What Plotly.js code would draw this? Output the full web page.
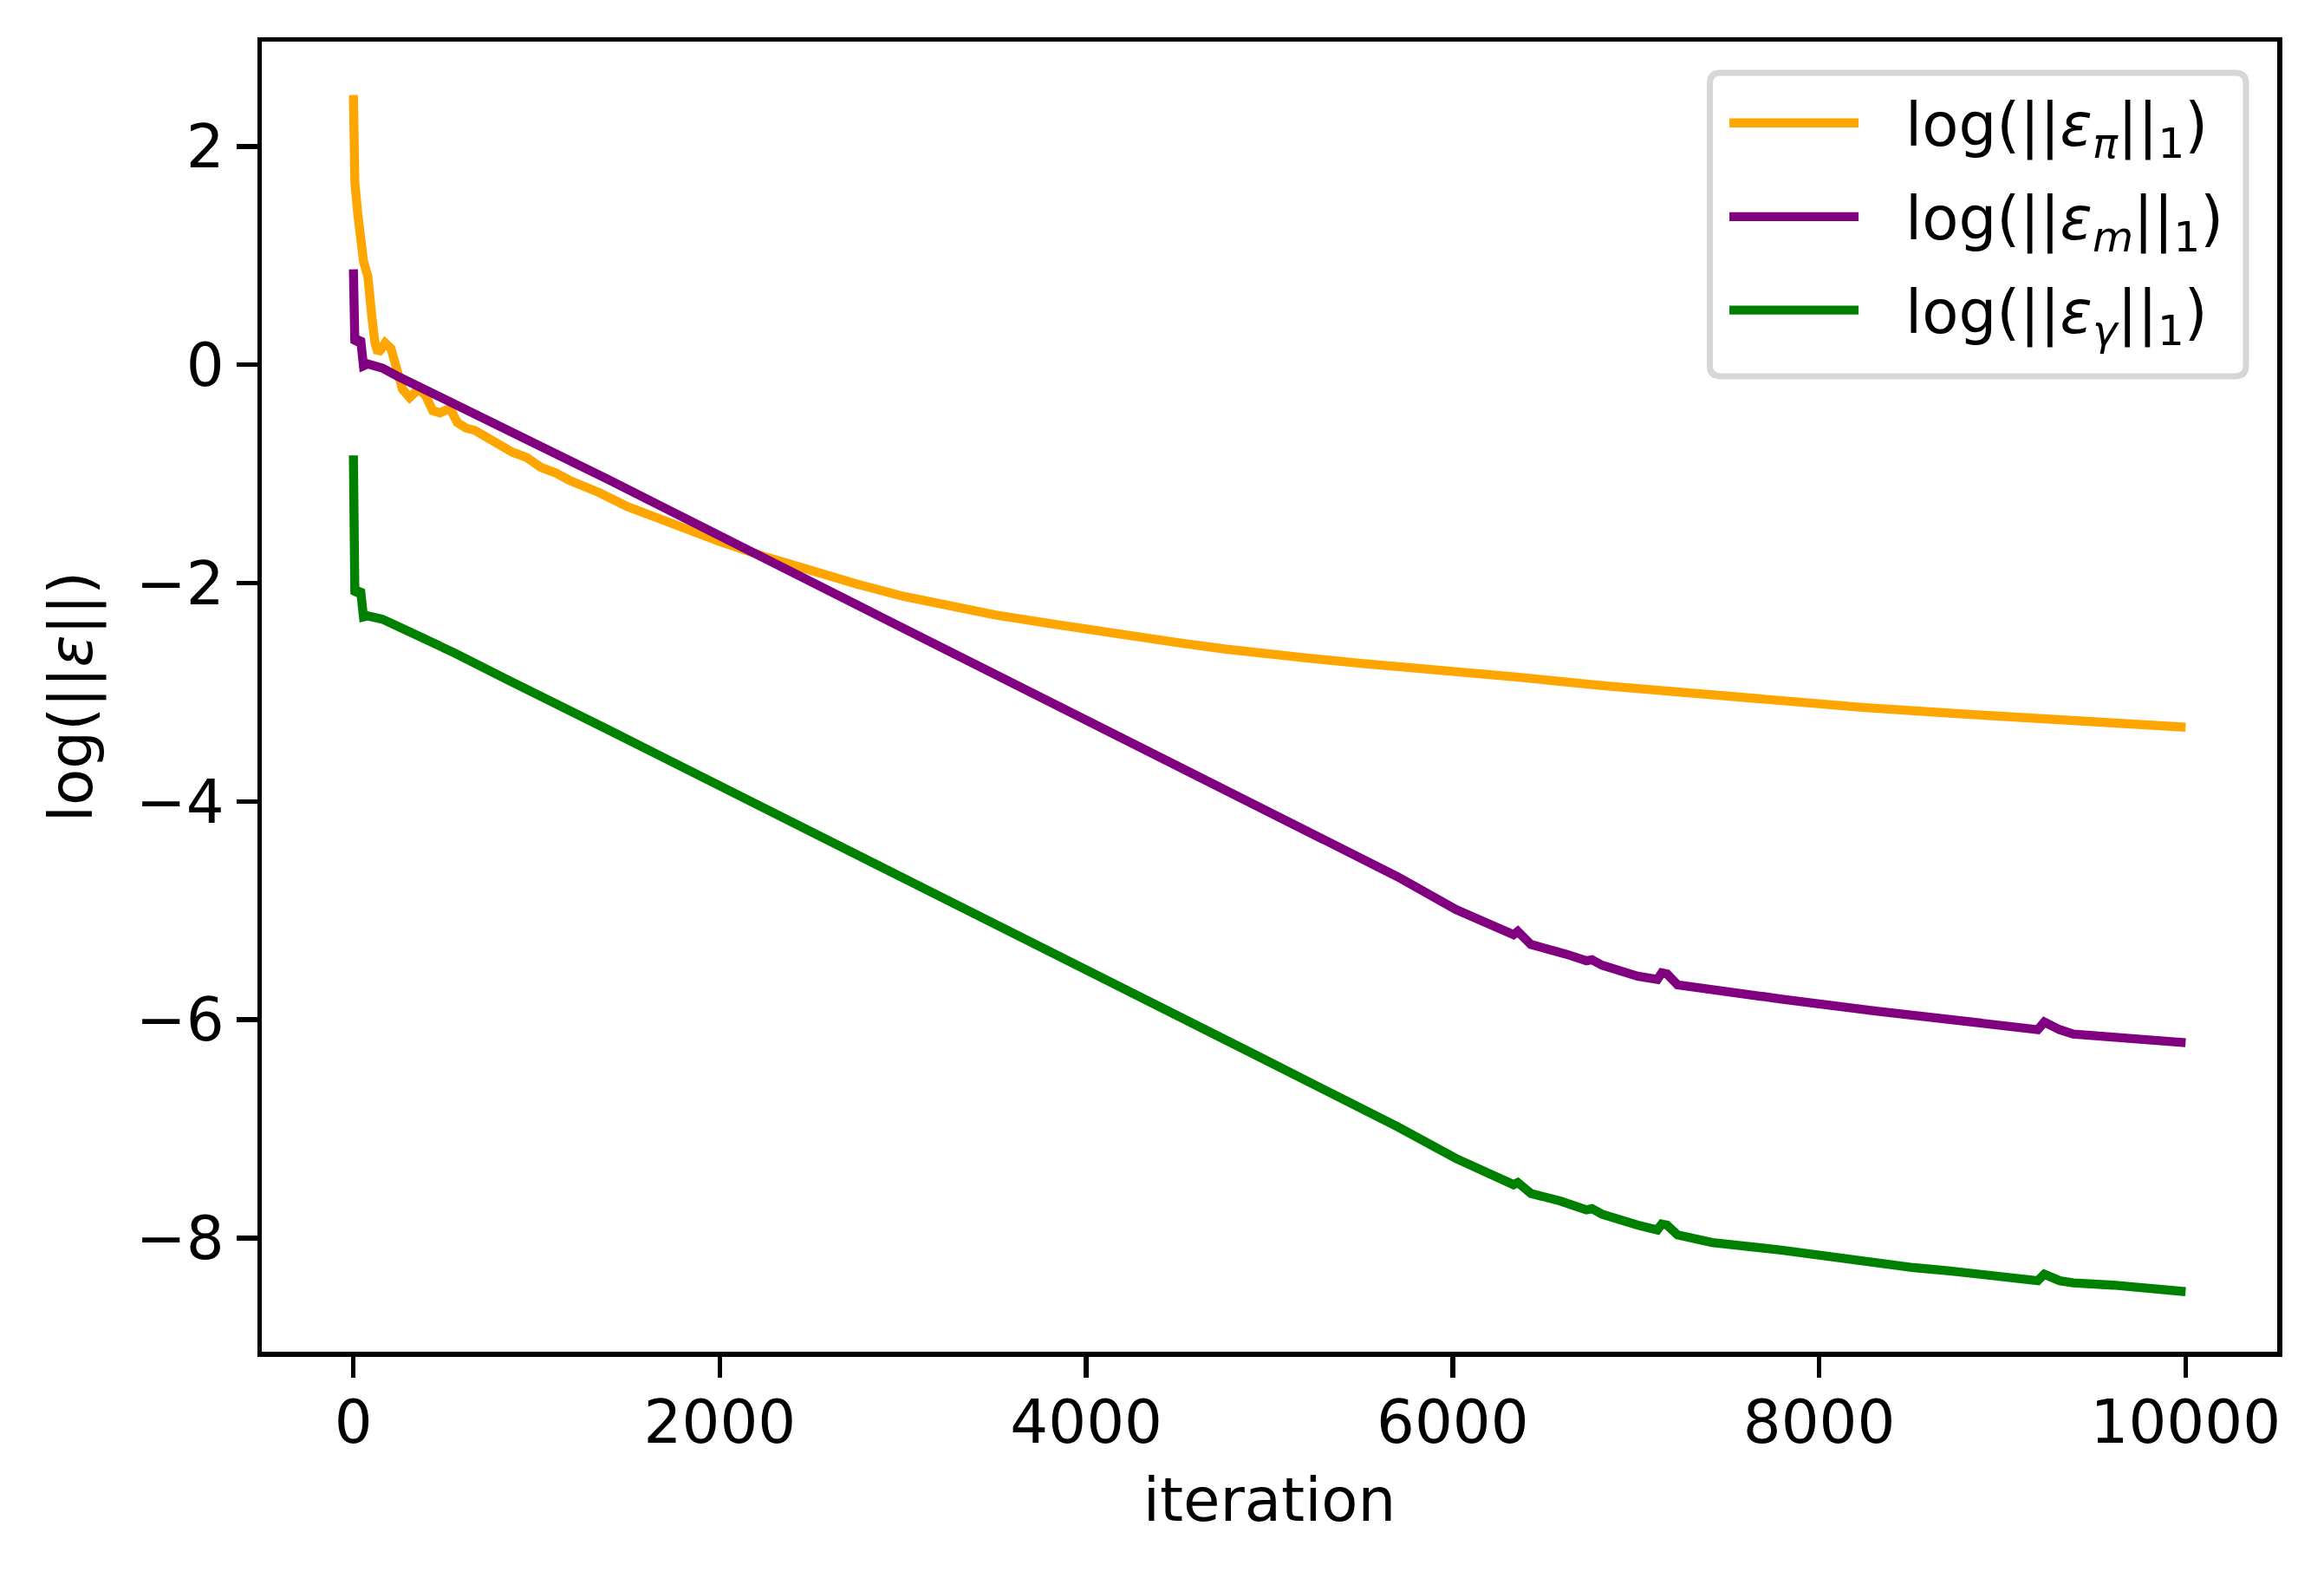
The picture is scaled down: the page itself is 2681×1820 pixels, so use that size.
<!DOCTYPE html>
<html>
<head>
<meta charset="utf-8">
<script src="https://cdn.plot.ly/plotly-3.0.1.min.js"></script>
<style>html,body{margin:0;padding:0;background:#fff;}#chart{width:2681px;height:1820px;}</style>
</head>
<body>
<div id="chart"></div>
<script>
// ---- data ----
const iterPi = [0, 1, 8, 24, 39, 55, 79, 87, 102, 118, 134, 150, 173, 205, 236, 268, 307, 330, 355, 394, 433, 473, 528, 567, 615, 662, 709, 788, 867, 946, 1024, 1103, 1182, 1340, 1497, 1655, 1812, 2000, 2250, 2500, 2750, 3000, 3250, 3500, 3799, 4040, 4281, 4522, 4763, 4933, 5170, 5500, 5897, 6350, 6823, 7300, 7788, 8250, 8752, 9400, 10000];
const errPi  = [2.47, 1.70, 1.67, 1.38, 1.06, 0.95, 0.81, 0.525, 0.42, 0.20, 0.11, 0.14, 0.20, 0.15, -0.05, -0.225, -0.30, -0.26, -0.225, -0.28, -0.42, -0.44, -0.40, -0.53, -0.58, -0.60, -0.65, -0.71, -0.80, -0.85, -0.94, -0.99, -1.06, -1.17, -1.30, -1.40, -1.51, -1.62, -1.76, -1.89, -2.01, -2.12, -2.215, -2.29, -2.37, -2.435, -2.495, -2.55, -2.605, -2.64, -2.68, -2.735, -2.79, -2.86, -2.94, -3.01, -3.08, -3.14, -3.195, -3.26, -3.32];

const iterM = [0, 1, 8, 39, 55, 79, 158, 236, 1387, 2725, 4933, 5400, 5657, 5700, 6018, 6332, 6355, 6427, 6622, 6730, 6760, 6815, 7010, 7117, 7141, 7170, 7227, 7417, 7795, 8310, 8517, 8715, 9193, 9229, 9260, 9313, 9387, 9603, 10000];
const errM  = [0.875, 0.42, 0.20, 0.24, -0.01, 0.007, -0.03, -0.10, -1.048, -2.18, -4.04, -4.44, -4.66, -4.69, -4.99, -5.22, -5.19, -5.31, -5.40, -5.46, -5.45, -5.50, -5.60, -5.63, -5.57, -5.58, -5.68, -5.73, -5.81, -5.92, -5.96, -6.00, -6.09, -6.02, -6.05, -6.09, -6.13, -6.16, -6.21];

const iterG = [0, 1, 8, 39, 55, 79, 158, 236, 394, 552, 835, 1387, 4933, 5170, 5657, 5700, 6018, 6332, 6355, 6427, 6588, 6730, 6760, 6815, 7010, 7117, 7141, 7170, 7227, 7417, 7795, 8310, 8517, 8715, 9193, 9229, 9260, 9313, 9387, 9603, 10000];
const errG  = [-0.83, -1.87, -2.10, -2.06, -2.31, -2.30, -2.33, -2.39, -2.51, -2.64, -2.88, -3.34, -6.33, -6.53, -6.94, -6.98, -7.27, -7.51, -7.49, -7.59, -7.66, -7.74, -7.73, -7.78, -7.88, -7.925, -7.87, -7.88, -7.97, -8.04, -8.11, -8.23, -8.27, -8.30, -8.39, -8.33, -8.36, -8.39, -8.41, -8.43, -8.49];

const seriesNames = ['log(||<i>ε</i><sub><i>π</i></sub>||<sub>1</sub>)',
                     'log(||<i>ε</i><sub><i>m</i></sub>||<sub>1</sub>)',
                     'log(||<i>ε</i><sub><i>γ</i></sub>||<sub>1</sub>)'];
const seriesColors = ['#FFA500', '#800080', '#008000'];
const xTicks = [0, 2000, 4000, 6000, 8000, 10000];
const yTicks = [-8, -6, -4, -2, 0, 2];

// ---- figure ----
const FONT = 'DejaVu Sans, sans-serif';
const FS = 69;
const LW = 10.4;
const xs = [iterPi, iterM, iterG];
const ys = [errPi, errM, errG];
const traces = xs.map((x, i) => ({
  x: x, y: ys[i], type: 'scatter', mode: 'lines', name: seriesNames[i],
  line: {color: seriesColors[i], width: LW}, showlegend: false
}));

// custom legend (matplotlib style: long line samples, rounded light-grey frame)
const L = {x0: 0.7185, x1: 0.9845, y0: 0.7446, y1: 0.9762, rx: 0.0052, ry: 0.0080};
const rows = [0.9380, 0.8664, 0.7951];
const shapes = [{
  type: 'path', xref: 'paper', yref: 'paper',
  path: `M${L.x0 + L.rx},${L.y0} L${L.x1 - L.rx},${L.y0} Q${L.x1},${L.y0} ${L.x1},${L.y0 + L.ry} ` +
        `L${L.x1},${L.y1 - L.ry} Q${L.x1},${L.y1} ${L.x1 - L.rx},${L.y1} L${L.x0 + L.rx},${L.y1} ` +
        `Q${L.x0},${L.y1} ${L.x0},${L.y1 - L.ry} L${L.x0},${L.y0 + L.ry} Q${L.x0},${L.y0} ${L.x0 + L.rx},${L.y0} Z`,
  line: {color: '#d6d6d6', width: 7}, fillcolor: 'rgba(255,255,255,0.8)', layer: 'above'
}];
const annotations = [];
rows.forEach((yy, i) => {
  shapes.push({type: 'line', xref: 'paper', yref: 'paper', x0: 0.7282, x1: 0.7923, y0: yy, y1: yy,
               line: {color: seriesColors[i], width: LW}, layer: 'above'});
  annotations.push({xref: 'paper', yref: 'paper', x: 0.8147, y: yy - 0.0045, xanchor: 'left', yanchor: 'middle',
                    text: seriesNames[i], showarrow: false, font: {family: FONT, size: FS, color: '#000'}});
});

const axisCommon = {
  showline: true, mirror: true, linecolor: '#000', linewidth: 5.5,
  ticks: 'outside', ticklen: 24, tickwidth: 5.5, tickcolor: '#000',
  showgrid: false, zeroline: false,
  tickfont: {family: FONT, size: FS, color: '#000'}
};

const layout = {
  width: 2681, height: 1820,
  margin: {l: 302, r: 54, t: 48, b: 261, pad: 0},
  paper_bgcolor: '#fff', plot_bgcolor: '#fff',
  font: {family: FONT, size: FS, color: '#000'},
  showlegend: false,
  xaxis: Object.assign({}, axisCommon, {
    range: [-500, 10500], tickvals: xTicks, tickformat: 'd', ticklabelstandoff: -7,
    title: {text: 'iteration', font: {family: FONT, size: FS, color: '#000'}, standoff: 28}
  }),
  yaxis: Object.assign({}, axisCommon, {
    range: [-9.04, 2.96], tickvals: yTicks,
    title: {text: 'log(||<i>ε</i>||)', font: {family: FONT, size: FS, color: '#000'}, standoff: 30}
  }),
  shapes: shapes,
  annotations: annotations
};

Plotly.newPlot('chart', traces, layout, {displayModeBar: false, staticPlot: true});
</script>
</body>
</html>
